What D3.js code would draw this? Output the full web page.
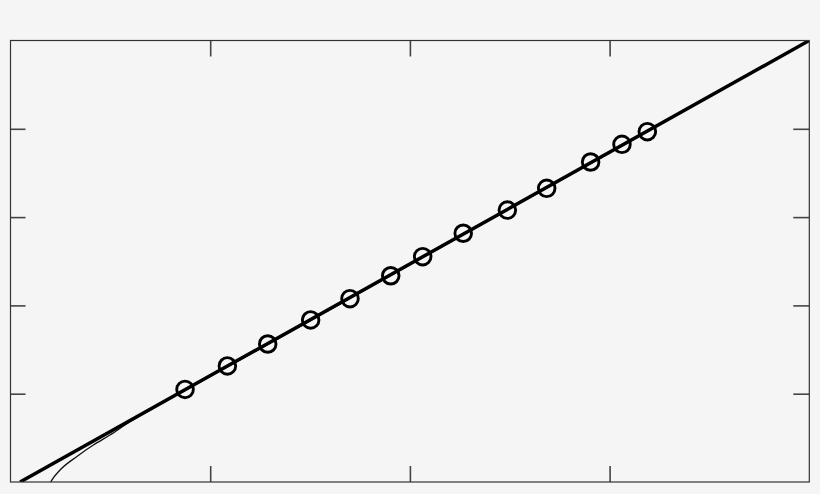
<!DOCTYPE html>
<html>
	<head>
		<style>
			body {
				margin: 0;
				background: #f5f5f5;
			}
			svg {
				display: block;
			}
		</style>
	</head>
	<body>
		<script src="https://cdn.jsdelivr.net/npm/d3@7"></script>
		<script>
			// values (axes carry no labels)
			var tickX = [1, 2, 3];
			var tickY = [1, 2, 3, 4];
			var pointX = [0.874, 1.086, 1.288, 1.503, 1.700, 1.904, 2.064, 2.267, 2.488, 2.685, 2.905, 3.062, 3.189];
			var pointY = [1.048, 1.314, 1.563, 1.835, 2.076, 2.336, 2.552, 2.817, 3.080, 3.326, 3.624, 3.824, 3.967];
			var fitX = [0.048, 4];
			var fitY = [0, 5];
			var curveX = [0.201, 0.218, 0.248, 0.331, 0.415, 0.498, 0.598, 0.749, 0.949, 1.5, 2, 3, 4];
			var curveY = [0, 0.057, 0.136, 0.287, 0.419, 0.532, 0.682, 0.878, 1.133, 1.824, 2.462, 3.728, 5];

			var width = 820;
			var height = 494;
			// note: "top" is taken by window.top, so plain names here
			var plotL = 10.5, plotR = 809.3, plotT = 40.5, plotB = 482;

			var x = d3.scaleLinear().domain([0, 4]).range([plotL, plotR]);
			var y = d3.scaleLinear().domain([0, 5]).range([plotB, plotT]);

			var svg = d3.select('body').append('svg')
						.attr('width', width)
						.attr('height', height);

			svg.append('rect')
				.attr('width', width)
				.attr('height', height)
				.attr('fill', '#f5f5f5');

			// ticks, all pointing inward
			function ticks(g) {
				g.select('.domain').remove();
				g.selectAll('.tick line').attr('stroke', '#444').attr('stroke-width', 1.6);
			}
			svg.append('g').attr('transform', 'translate(0,' + plotT + ')')
				.call(d3.axisTop(x).tickValues(tickX).tickSize(-16).tickFormat(''))
				.call(ticks);
			svg.append('g').attr('transform', 'translate(0,' + plotB + ')')
				.call(d3.axisBottom(x).tickValues(tickX).tickSize(-16).tickFormat(''))
				.call(ticks);
			svg.append('g').attr('transform', 'translate(' + plotL + ',0)')
				.call(d3.axisLeft(y).tickValues(tickY).tickSize(-15).tickFormat(''))
				.call(ticks);
			svg.append('g').attr('transform', 'translate(' + plotR + ',0)')
				.call(d3.axisRight(y).tickValues(tickY).tickSize(-16).tickFormat(''))
				.call(ticks);

			svg.append('clipPath').attr('id', 'plot')
				.append('rect')
				.attr('x', plotL).attr('y', plotT)
				.attr('width', plotR - plotL).attr('height', plotB - plotT);

			var line = d3.line()
				.x(function(d) { return x(d[0]); })
				.y(function(d) { return y(d[1]); });

			var plot = svg.append('g').attr('clip-path', 'url(#plot)');

			plot.append('path')
				.datum(d3.zip(curveX, curveY))
				.attr('d', line.curve(d3.curveMonotoneX))
				.attr('fill', 'none')
				.attr('stroke', '#111')
				.attr('stroke-width', 1.3);

			plot.append('path')
				.datum(d3.zip(fitX, fitY))
				.attr('d', line.curve(d3.curveLinear))
				.attr('fill', 'none')
				.attr('stroke', '#000')
				.attr('stroke-width', 3.5);

			svg.selectAll('circle.pt')
				.data(d3.zip(pointX, pointY))
				.enter().append('circle')
				.attr('class', 'pt')
				.attr('cx', function(d) { return x(d[0]); })
				.attr('cy', function(d) { return y(d[1]); })
				.attr('r', 8.3)
				.attr('fill', 'none')
				.attr('stroke', '#000')
				.attr('stroke-width', 2.9);

			// frame
			svg.append('rect')
				.attr('x', plotL).attr('y', plotT)
				.attr('width', plotR - plotL).attr('height', plotB - plotT)
				.attr('fill', 'none')
				.attr('stroke', '#333')
				.attr('stroke-width', 1.2);
		</script>
	</body>
</html>
